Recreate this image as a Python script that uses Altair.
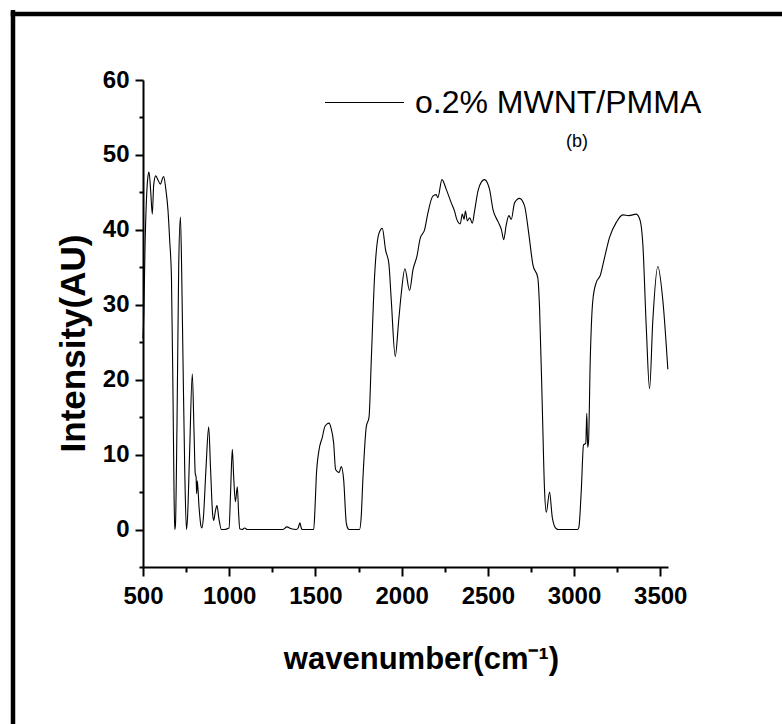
import altair as alt
import pandas as pd

# Spectrum
wavenumber = [500, 505, 512, 520, 528, 535, 545, 554, 562, 574, 588, 601, 612, 620, 632, 645, 655, 665, 674, 680,
              684, 688, 697, 707, 717, 724, 732, 742, 752, 758, 770, 786, 796, 803, 808, 811, 815, 825, 836, 842,
              850, 865, 881, 892, 904, 910, 920, 929, 940, 955, 970, 999, 1008, 1018, 1026, 1036, 1047, 1055, 1061, 1075,
              1090, 1105, 1312, 1335, 1360, 1389, 1400, 1410, 1418, 1424, 1490, 1497, 1505, 1520, 1540, 1554, 1568, 1579, 1590, 1606,
              1617, 1637, 1650, 1664, 1679, 1690, 1698, 1756, 1765, 1776, 1795, 1811, 1824, 1843, 1868, 1888, 1907, 1926, 1940, 1963,
              1983, 1998, 2019, 2046, 2066, 2089, 2108, 2133, 2152, 2181, 2201, 2210, 2234, 2259, 2288, 2307, 2320, 2340, 2352, 2362,
              2370, 2381, 2395, 2410, 2423, 2443, 2463, 2481, 2497, 2510, 2530, 2559, 2579, 2592, 2607, 2622, 2636, 2655, 2684, 2713,
              2738, 2761, 2790, 2800, 2816, 2829, 2839, 2858, 2874, 2897, 2910, 3020, 3028, 3042, 3055, 3068, 3074, 3079, 3084, 3094,
              3109, 3129, 3152, 3177, 3206, 3245, 3283, 3318, 3361, 3384, 3399, 3419, 3438, 3457, 3486, 3515, 3544]
intensity = [25.5, 29, 38, 44, 47, 47.7, 45, 42.1, 46, 47.2, 46.6, 46.1, 46.8, 47.1, 45.5, 42.6, 38.5, 33.7, 18, 5,
             0, 0.5, 13.7, 35, 41.7, 35, 22.6, 8, 0, 1.5, 10, 20.8, 13, 7.5, 7.0, 4.8, 6.5, 3, 0.5, 0.2,
             1.5, 8, 13.7, 8, 2, 1.2, 2.5, 3.2, 1.5, 0, 0, 0.2, 5, 10.7, 7, 3.7, 5.7, 2, 0.1, 0,
             0.2, 0, 0, 0.35, 0.1, 0, 0.2, 0.9, 0.2, 0, 0, 2.5, 7, 10.5, 12.3, 13.7, 14.1, 14.2, 13.6, 11.5,
             8.0, 7.6, 8.4, 6.6, 0.9, 0.1, 0, 0, 1.5, 7, 13.7, 15, 22.6, 33.7, 39.5, 40.2, 37.3, 35.5, 30.6, 23.1,
             27.9, 31.5, 34.8, 31.9, 34.7, 36.5, 38.9, 40.0, 42.2, 44.5, 44.7, 44.3, 46.7, 45.4, 43.6, 42.5, 41.4, 40.8, 42.1, 41.4,
             42.5, 41.2, 41.6, 40.9, 42.5, 45.2, 46.4, 46.7, 46.3, 45.4, 42.7, 41.1, 40.0, 38.7, 40.7, 41.9, 41.4, 43.6, 44.2, 43.2,
             39.4, 35.4, 33.6, 29.6, 16.3, 5.2, 2.3, 5.0, 1.6, 0.1, 0, 0, 0.3, 5.2, 11.3, 11.5, 15.5, 11.0, 11.7, 22.6,
             30.6, 33.0, 33.9, 36.3, 39.0, 41.0, 42.0, 41.9, 42.1, 41.2, 38.1, 27.0, 18.8, 27.9, 35.1, 30.6, 21.4]

series_name = "o.2% MWNT/PMMA"
panel_label = "(b)"
x_title = "wavenumber(cm\u207b\u00b9)"
y_title = "Intensity(AU)"
x_major = [500, 1000, 1500, 2000, 2500, 3000, 3500]
x_minor = [750, 1250, 1750, 2250, 2750, 3250]
y_major = [0, 10, 20, 30, 40, 50, 60]
y_minor = [-5, 5, 15, 25, 35, 45, 55]

df = pd.DataFrame({"wavenumber": wavenumber, "intensity": intensity,
                   "series": [series_name] * len(wavenumber)})

W, H = 525, 487
FONT = "Liberation Sans"

xscale = alt.Scale(domain=[500, 3545], nice=False, zero=False)
yscale = alt.Scale(domain=[-5, 60], nice=False, zero=False)

line = alt.Chart(df).mark_line(strokeWidth=1.1, interpolate="monotone").encode(
    x=alt.X("wavenumber:Q", scale=xscale,
            axis=alt.Axis(orient="bottom", values=x_major, format="d", tickSize=9, labelPadding=8,
                          labelFlush=False,
                          title=x_title, titleFontSize=31, titleFontWeight="bold",
                          titleBaseline="alphabetic", titleAlign="center", titleX=278, titleY=101)),
    y=alt.Y("intensity:Q", scale=yscale,
            axis=alt.Axis(orient="left", values=y_major, format="d", tickSize=8, labelPadding=6,
                          labelFlush=False,
                          title=y_title, titleFontSize=35, titleFontWeight="bold",
                          titleBaseline="alphabetic", titleAlign="center", titleX=-59, titleY=263)),
    color=alt.Color("series:N", scale=alt.Scale(range=["black"]),
                    legend=alt.Legend(title=None, orient="none", legendX=181, legendY=-18,
                                      symbolType="stroke", symbolSize=6241, symbolStrokeWidth=1.1,
                                      labelFont=FONT, labelFontSize=32, labelFontWeight="normal",
                                      labelColor="black", labelOffset=10, padding=0,
                                      labelLimit=500)),
)

minor = alt.Chart(df).mark_point(opacity=0).encode(
    x=alt.X("wavenumber:Q", scale=xscale,
            axis=alt.Axis(orient="bottom", values=x_minor, tickSize=5, labels=False, domain=False, title=None)),
    y=alt.Y("intensity:Q", scale=yscale,
            axis=alt.Axis(orient="left", values=y_minor, tickSize=4, labels=False, domain=False, title=None)),
)

frame_df = pd.DataFrame({"k": [0]})
frame_left = alt.Chart(frame_df).mark_rule(color="black", strokeWidth=4.5).encode(
    x=alt.value(-130), y=alt.value(-70), y2=alt.value(650))
frame_top = alt.Chart(frame_df).mark_rule(color="black", strokeWidth=4.5).encode(
    y=alt.value(-66), x=alt.value(-132.3), x2=alt.value(645))

label_b = alt.Chart(pd.DataFrame({"t": [panel_label]})).mark_text(
    font=FONT, fontSize=18, color="black", align="center", baseline="middle").encode(
    text="t:N", x=alt.value(434), y=alt.value(62))

chart = alt.layer(line, minor, frame_left, frame_top, label_b).resolve_axis(
    x="independent", y="independent"
).properties(
    width=W, height=H,
    autosize=alt.AutoSizeParams(type="none"),
    padding={"left": 143, "top": 80, "right": 114, "bottom": 157},
    background="white",
).configure_view(strokeWidth=0).configure_axis(
    domainColor="black", domainWidth=2, tickColor="black", tickWidth=2,
    labelFont=FONT, labelFontSize=24, labelFontWeight="bold", labelColor="black",
    titleFont=FONT, titleColor="black", grid=False,
)

chart.save("out.html", embed_options={"renderer": "svg", "actions": False})
